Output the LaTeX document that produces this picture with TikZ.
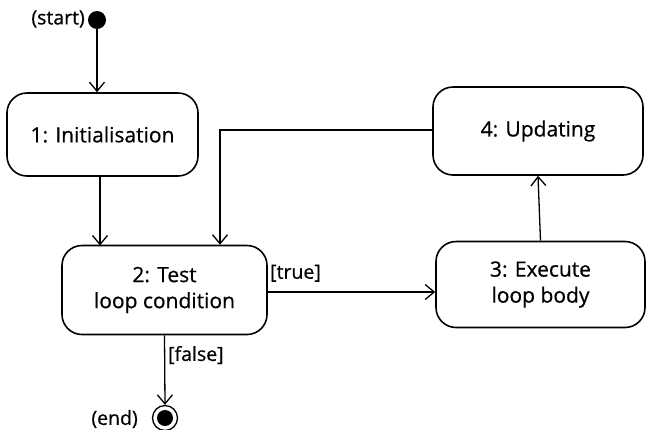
\documentclass[tikz,border=0pt]{standalone}
\usepackage{fontspec}
\setmainfont{Open Sans}[FakeBold=0.6]
\usetikzlibrary{arrows.meta}
\begin{document}
\begin{tikzpicture}[x=1pt,y=-1pt,
  state/.style={draw,line width=1.6pt,rounded corners=20pt,align=center,font=\fontsize{21}{26}\selectfont,inner sep=0pt},
  lbl/.style={font=\fontsize{19.5}{22}\selectfont,inner sep=1pt},
  flow/.style={line width=1.3pt,-{Straight Barb[length=9pt,width=15pt,line width=1.3pt]}}]
\useasboundingbox (0,0) rectangle (647,429);
\node[circle,fill,inner sep=0pt,minimum size=18pt] (start) at (97,20) {};
\node[lbl,anchor=east] (startl) at (86,19) {(start)};
\node[state,minimum width=191pt,minimum height=83pt] (s1) at (102.5,134.5) {1: Initialisation};
\node[state,minimum width=205pt,minimum height=89pt] (s2) at (164.5,290) {2: Test\\loop condition};
\node[state,minimum width=209pt,minimum height=86pt] (s3) at (540.5,284.5) {3: Execute\\loop body};
\node[state,minimum width=210pt,minimum height=88pt] (s4) at (538,131) {4: Updating};
\node[circle,draw,line width=1.3pt,inner sep=0pt,minimum size=25pt] (end) at (165,418) {};
\node[circle,fill,inner sep=0pt,minimum size=16pt] at (end) {};
\node[lbl,anchor=east] (endl) at (139,419) {(end)};
\coordinate (c1) at (220,130);
\draw[flow] (start) -- (start |- s1.north);
\draw[flow] (100,176) -- (100,245.5);
\draw[flow] (s2.east |- 0,292) -- (s3.west |- 0,292);
\draw[flow] (s3.north) -- (s4.south);
\draw[flow] (s4.west |- c1) -- (c1) -- (c1 |- s2.north);
\draw[flow] (s2.south) -- (end.north);
\node[lbl,anchor=south west] (tl) at (269,283) {[true]};
\node[lbl,anchor=west] (fl) at (167,355) {[false]};
\end{tikzpicture}
\end{document}
